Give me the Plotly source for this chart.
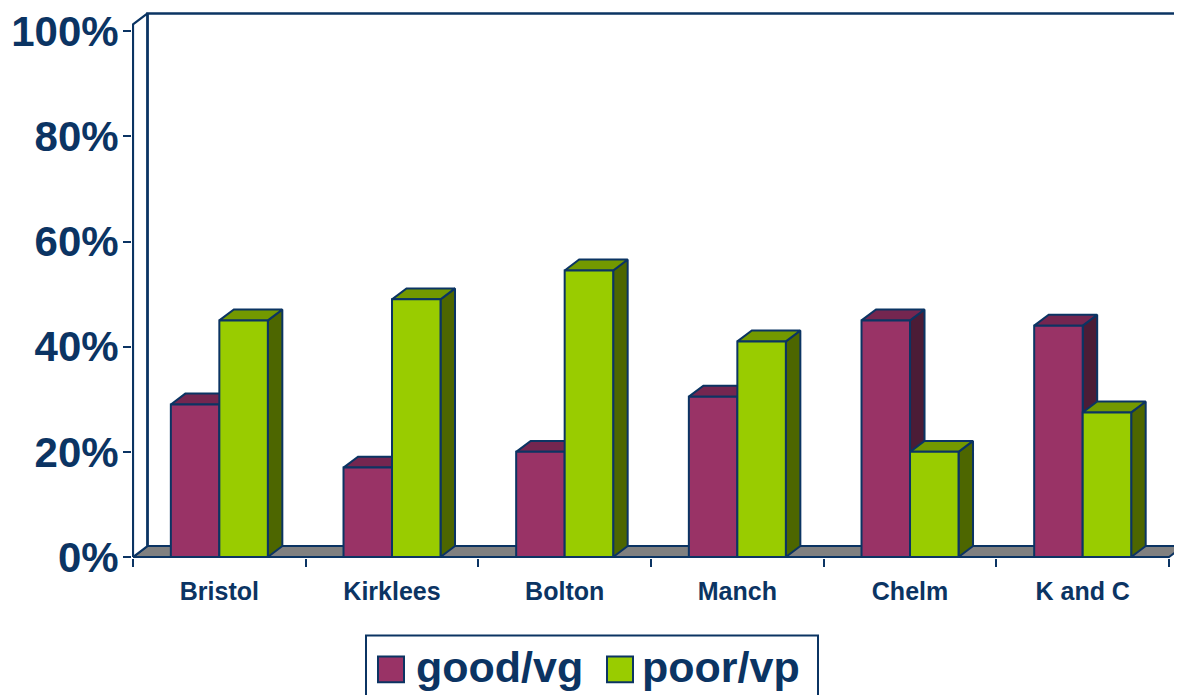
import plotly.graph_objects as go

# ---- data ----
categories = ["Bristol", "Kirklees", "Bolton", "Manch", "Chelm", "K and C"]
good_vg = [29, 17, 20, 30.5, 45, 44]
poor_vp = [45, 49, 54.5, 41, 20, 27.5]
y_tickvals = [0, 20, 40, 60, 80, 100]
y_ticktext = ["0%", "20%", "40%", "60%", "80%", "100%"]
series_names = ["good/vg", "poor/vp"]

# ---- style ----
NAVY = "#0b3463"
FONT = "Liberation Sans, Arial, sans-serif"
front_cols = ["#993366", "#99cc00"]
top_cols = ["#742650", "#739900"]
side_cols = ["#4b1c36", "#4d6600"]
FLOOR = "#808080"

# page body has an 8px margin: figure is drawn 8px smaller and offset
OFF = 8
W, H = 1182 - OFF, 695 - OFF
ml, mr, mt, mb = 132 - OFF, 0, 0, 695 - 558
PX_X = 172.67      # px per category unit
PX_Y = 5.287       # px per percent
x_lo = -0.5 - 1 / PX_X
x_hi = x_lo + (W - ml - mr) / PX_X
y_lo = -1 / PX_Y
y_hi = y_lo + (H - mt - mb) / PX_Y

DX = 14.5 / PX_X   # depth offset in data units
DY = 11.0 / PX_Y
BW = 48.5 / PX_X   # bar width
WALL_TOP = 101.3

n = len(categories)
x_left, x_right = -0.5, n - 0.5

fig = go.Figure()


def poly_trace(polys, fill, line_w=2.0):
    xs, ys = [], []
    for p in polys:
        for (a, b) in p:
            xs.append(a)
            ys.append(b)
        xs.append(p[0][0])
        ys.append(p[0][1])
        xs.append(None)
        ys.append(None)
    return go.Scatter(x=xs, y=ys, mode="lines", fill="toself", fillcolor=fill,
                      line=dict(color=NAVY, width=line_w), hoverinfo="skip",
                      showlegend=False)


# floor
floor = [(x_left, 0), (x_right, 0), (x_right + DX, DY), (x_left + DX, DY)]
fig.add_trace(poly_trace([floor], FLOOR))
# left wall
wall = [(x_left, 0), (x_left, WALL_TOP), (x_left + DX, WALL_TOP + DY), (x_left + DX, DY)]
fig.add_trace(poly_trace([wall], "white", 2.2))
# back wall edges
fig.add_trace(go.Scatter(x=[x_left + DX, x_left + DX, x_right + 1], y=[DY, WALL_TOP + DY, WALL_TOP + DY],
                         mode="lines", line=dict(color=NAVY, width=2.5), hoverinfo="skip",
                         showlegend=False))

# bars (all faces computed from data)
for s, vals in enumerate([good_vg, poor_vp]):
    fronts, tops, sides = [], [], []
    for i, v in enumerate(vals):
        x0 = i - BW if s == 0 else i
        x1 = x0 + BW
        fronts.append([(x0, 0), (x1, 0), (x1, v), (x0, v)])
        sides.append([(x1, 0), (x1 + DX, DY), (x1 + DX, v + DY), (x1, v)])
        tops.append([(x0, v), (x1, v), (x1 + DX, v + DY), (x0 + DX, v + DY)])
    fig.add_trace(poly_trace(sides, side_cols[s]))
    fig.add_trace(poly_trace(tops, top_cols[s]))
    fig.add_trace(poly_trace(fronts, front_cols[s]))

fig.update_layout(
    width=W, height=H,
    margin=dict(l=ml, r=mr, t=mt, b=mb),
    plot_bgcolor="white", paper_bgcolor="white",
    showlegend=False,
    font=dict(family=FONT, color=NAVY),
    xaxis=dict(
        range=[x_lo, x_hi], showgrid=False, zeroline=False, showline=False,
        tickmode="array", tickvals=list(range(n)), ticktext=categories,
        ticks="outside", ticklen=0, tickcolor=NAVY,
        tickfont=dict(family=FONT, size=25, color=NAVY, weight="bold"),
        ticklabelstandoff=11, ticklabeloverflow="allow",
        minor=dict(tickmode="array", tickvals=[k - 0.5 for k in range(n + 1)],
                   ticks="outside", ticklen=8, tickwidth=2, tickcolor=NAVY, showgrid=False),
        fixedrange=True,
    ),
    yaxis=dict(
        range=[y_lo, y_hi], showgrid=False, zeroline=False, showline=False,
        tickmode="array", tickvals=y_tickvals, ticktext=y_ticktext,
        ticks="outside", ticklen=8, tickwidth=2, tickcolor=NAVY,
        tickfont=dict(family=FONT, size=42, color=NAVY, weight="bold"),
        ticklabelstandoff=-4, ticklabeloverflow="allow",
        fixedrange=True,
    ),
)

# ---- manual legend (large swatches); coordinates given in reference page px ----
def px2paper_x(px):
    return (px - OFF - ml) / (W - ml - mr)


def px2paper_y(py):
    return (H - mb - (py - OFF)) / (H - mt - mb)


fig.add_shape(type="rect", xref="paper", yref="paper",
              x0=px2paper_x(366), x1=px2paper_x(818), y0=px2paper_y(710), y1=px2paper_y(636),
              line=dict(color=NAVY, width=2), fillcolor="white", layer="above")
sw_x = [378, 607]
tx_x = [414, 640]
for k in range(2):
    fig.add_shape(type="rect", xref="paper", yref="paper",
                  x0=px2paper_x(sw_x[k]), x1=px2paper_x(sw_x[k] + 26),
                  y0=px2paper_y(683), y1=px2paper_y(657),
                  line=dict(color=NAVY, width=2), fillcolor=front_cols[k], layer="above")
    fig.add_annotation(xref="paper", yref="paper", x=px2paper_x(tx_x[k]), y=px2paper_y(668),
                       xanchor="left", yanchor="middle", showarrow=False,
                       text=series_names[k],
                       font=dict(family=FONT, size=43, color=NAVY, weight="bold"))

fig.write_html("out.html")
